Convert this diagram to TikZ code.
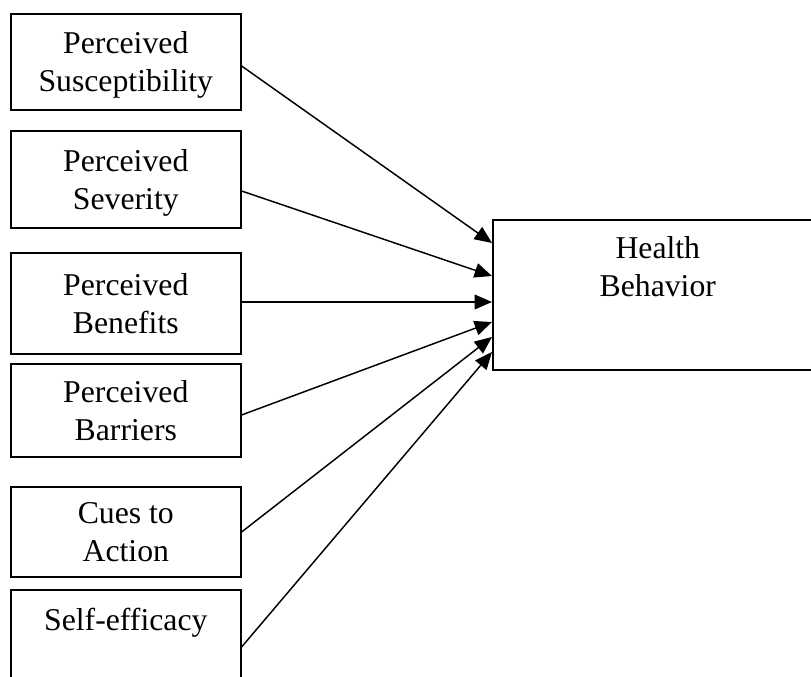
\documentclass[tikz,border=0pt]{standalone}
\usepackage{fontspec}
\setmainfont{Liberation Serif}
\usetikzlibrary{arrows.meta}
\tikzset{
  factor/.style={draw, line width=1.2pt, inner sep=0pt, minimum width=172.5pt,
    align=center, anchor=north west, font=\fontsize{23.8}{28.5}\selectfont},
  arr/.style={line width=1.1pt, -{Triangle[length=13pt,width=11pt]}}
}
% text at the top of a tall box
\newcommand{\topbox}[4]{\parbox[t][#1][t]{#2}{\centering\vspace*{#3}#4}}
\begin{document}
\begin{tikzpicture}[x=0.75pt,y=-0.75pt]
  \useasboundingbox (0,0) rectangle (811,677);
  \clip (0,0) rectangle (811,677);
  \node[factor, text depth=0pt, minimum height=72pt] (sus) at (10,13) {Perceived\\Susceptibility};
  \node[factor, text depth=0pt, minimum height=72.75pt] (sev) at (10,130) {Perceived\\Severity};
  \node[factor, text depth=0pt, minimum height=75.75pt] (ben) at (10,252) {Perceived\\Benefits};
  \node[factor, text depth=0pt, minimum height=69.75pt] (bar) at (10,363) {Perceived\\Barriers};
  \node[factor, text depth=0pt, minimum height=67.5pt] (cue) at (10,486) {Cues to\\Action};
  \node[factor] (eff) at (10,589) {\topbox{97.5pt}{172.5pt}{13.5pt}{Self-efficacy}};
  \node[factor, minimum width=247.5pt] (hb) at (492,219) {\topbox{112.5pt}{247.5pt}{12.75pt}{Health\\Behavior}};
  % all factors point to the behavior box
  \foreach \n/\s/\e in {sus/39.75/18, sev/45.75/42.75, ben/37.5/62.25, bar/39/77.25, cue/34.5/88.5, eff/43.5/99.75}
    \draw[arr] ([yshift=-\s pt]\n.north east) -- ([yshift=-\e pt]hb.north west);
\end{tikzpicture}
\end{document}
